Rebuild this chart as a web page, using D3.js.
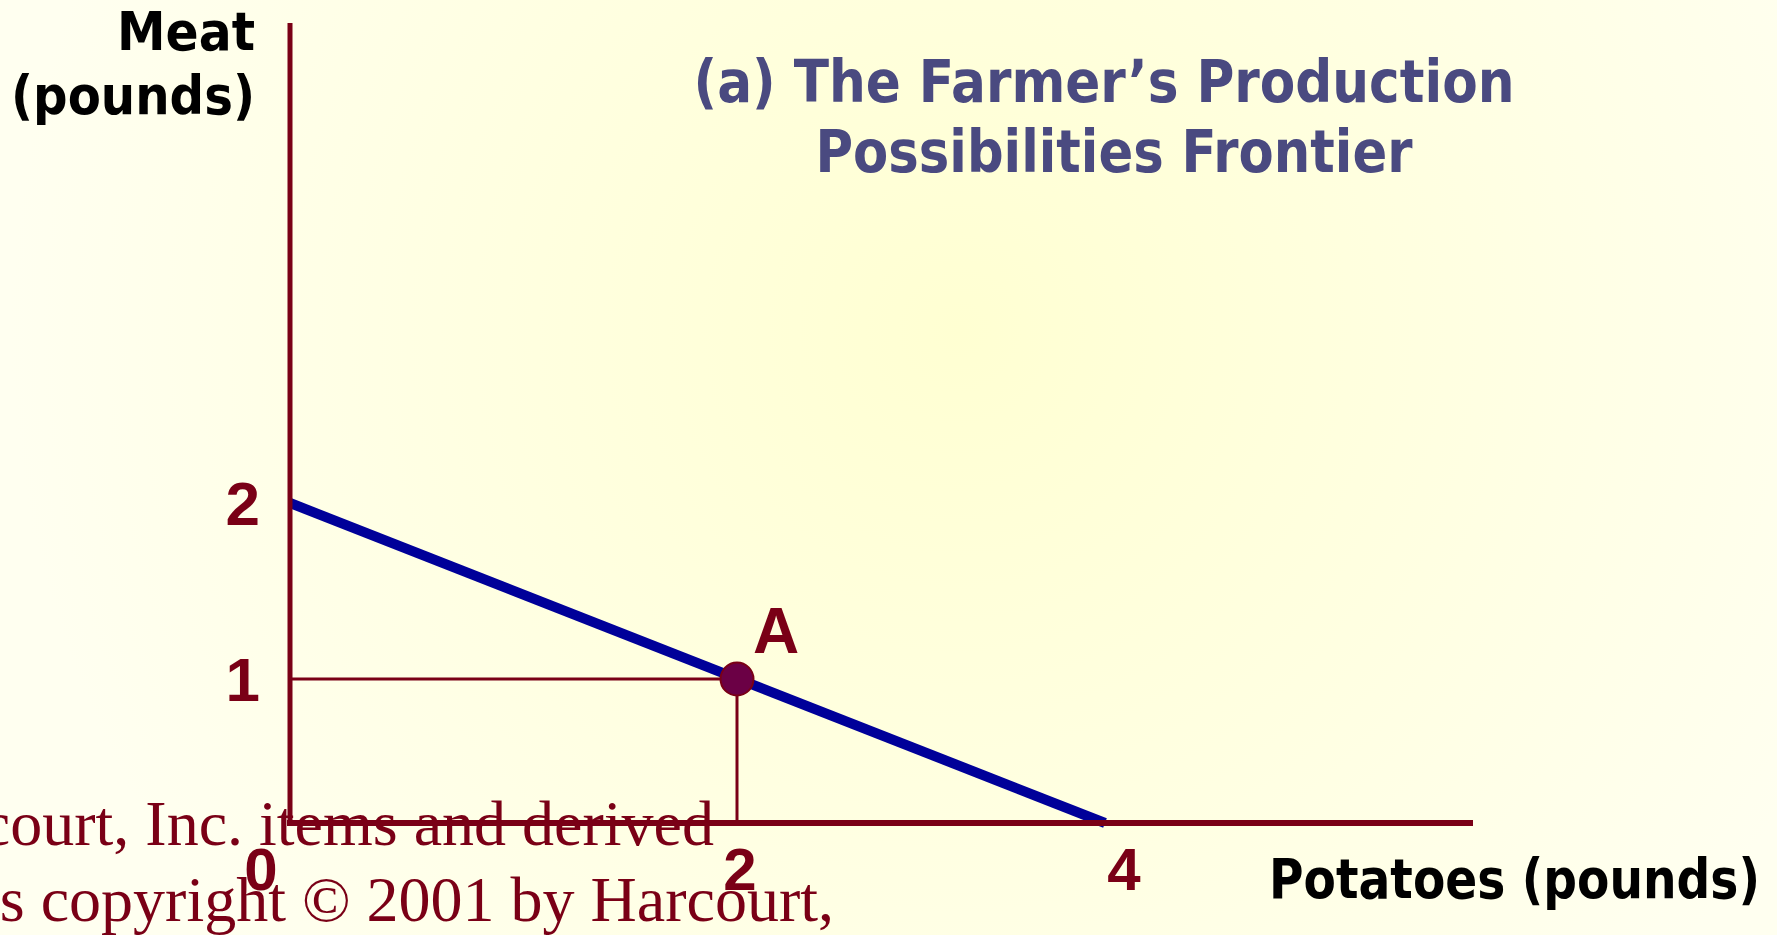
<!DOCTYPE html>
<html>
<head>
<meta charset="utf-8">
<script src="https://cdn.jsdelivr.net/npm/d3@7"></script>
<style>
  html, body { margin: 0; padding: 0; background: #FFFFEE; }
  svg { display: block; }
</style>
</head>
<body>
<script>
// ---- data ----
const frontierPotatoes = [0, 4];
const frontierMeat = [2, 0];
const pointLabels = ["A"];
const pointPotatoes = [2];
const pointMeat = [1];
const xTickValues = [0, 2, 4];
const xTickLabels = ["0", "2", "4"];
const yTickValues = [1, 2];
const yTickLabels = ["1", "2"];
const titleLines = ["(a) The Farmer\u2019s Production", "Possibilities Frontier"];
const yAxisTitle = ["Meat", "(pounds)"];
const xAxisTitle = "Potatoes (pounds)";
const copyrightLines = ["Harcourt, Inc. items and derived", "items copyright \u00A9 2001 by Harcourt,"];

// ---- layout ----
const W = 1777, H = 935;
const axisX = 290, axisY = 823, axisTop = 23, axisRight = 1473;
const dark = "#7A0016";

// schematic (piecewise linear) scales as in the original figure
const x = d3.scaleLinear().domain([0, 2, 4]).range([axisX, 737, 1105]);
const y = d3.scaleLinear().domain([0, 1, 2]).range([axisY, 679, 503]);

const svg = d3.select("body").append("svg").attr("width", W).attr("height", H);

const defs = svg.append("defs");
const grad = defs.append("radialGradient").attr("id", "bg")
  .attr("gradientUnits", "userSpaceOnUse")
  .attr("cx", 960).attr("cy", 330).attr("r", 950);
grad.append("stop").attr("offset", "0").attr("stop-color", "#FFFFD2");
grad.append("stop").attr("offset", "0.55").attr("stop-color", "#FFFFE2");
grad.append("stop").attr("offset", "1").attr("stop-color", "#FFFFF0");
svg.append("rect").attr("width", W).attr("height", H).attr("fill", "url(#bg)");

// title
svg.append("g").selectAll("text").data(titleLines).join("text")
  .attr("x", (d, i) => i === 0 ? 1104 : 1114)
  .attr("y", (d, i) => i === 0 ? 102 : 172)
  .attr("text-anchor", "middle")
  .attr("font-family", "'DejaVu Sans', sans-serif")
  .attr("font-weight", "bold")
  .attr("font-size", 58)
  .attr("fill", "#4A4A80")
  .attr("textLength", (d, i) => i === 0 ? 821 : 597)
  .attr("lengthAdjust", "spacingAndGlyphs")
  .text(d => d);

// y axis title
svg.append("g").selectAll("text").data(yAxisTitle).join("text")
  .attr("x", 255)
  .attr("y", (d, i) => i === 0 ? 50 : 114)
  .attr("text-anchor", "end")
  .attr("font-family", "'DejaVu Sans', sans-serif")
  .attr("font-weight", "bold")
  .attr("font-size", 53)
  .attr("fill", "#000")
  .attr("textLength", (d, i) => i === 0 ? 138 : 244)
  .attr("lengthAdjust", "spacingAndGlyphs")
  .text(d => d);

// x axis title
svg.append("text")
  .attr("x", 1269).attr("y", 898)
  .attr("font-family", "'DejaVu Sans', sans-serif")
  .attr("font-weight", "bold")
  .attr("font-size", 56)
  .attr("fill", "#000")
  .attr("textLength", 491)
  .attr("lengthAdjust", "spacingAndGlyphs")
  .text(xAxisTitle);

// guide lines to point
const pts = pointLabels.map((l, i) => ({ label: l, px: pointPotatoes[i], py: pointMeat[i] }));
const guides = svg.append("g").attr("stroke", dark).attr("stroke-width", 3);
pts.forEach(p => {
  guides.append("line").attr("x1", x(0)).attr("x2", x(p.px)).attr("y1", y(p.py)).attr("y2", y(p.py));
  guides.append("line").attr("x1", x(p.px)).attr("x2", x(p.px)).attr("y1", y(p.py)).attr("y2", y(0));
});

// frontier
const frontier = frontierPotatoes.map((v, i) => [v, frontierMeat[i]]);
svg.append("path")
  .datum(frontier)
  .attr("d", d3.line().x(d => x(d[0])).y(d => y(d[1])))
  .attr("fill", "none")
  .attr("stroke", "#000099")
  .attr("stroke-width", 10);

// axes
const yAxis = d3.axisLeft(y).tickValues([]).tickSizeOuter(0);
const gy = svg.append("g").attr("transform", `translate(${axisX},0)`).call(yAxis);
gy.select(".domain").attr("d", `M0,${axisTop}V${axisY + 3}`).attr("stroke", dark).attr("stroke-width", 5);
const xAxis = d3.axisBottom(x).tickValues([]).tickSizeOuter(0);
const gx = svg.append("g").attr("transform", `translate(0,${axisY})`).call(xAxis);
gx.select(".domain").attr("d", `M${axisX - 3},0H${axisRight}`).attr("stroke", dark).attr("stroke-width", 6);

// tick labels
const xNudge = { 0: -29, 2: 3, 4: 19 };
svg.append("g").selectAll("text").data(xTickValues).join("text")
  .attr("x", d => x(d) + xNudge[d])
  .attr("y", 890)
  .attr("text-anchor", "middle")
  .attr("font-family", "'Liberation Sans', Arial, sans-serif")
  .attr("font-weight", "bold")
  .attr("font-size", 60)
  .attr("fill", dark)
  .text((d, i) => xTickLabels[i]);
svg.append("g").selectAll("text").data(yTickValues).join("text")
  .attr("x", 260)
  .attr("y", d => y(d) + 22)
  .attr("text-anchor", "end")
  .attr("font-family", "'Liberation Sans', Arial, sans-serif")
  .attr("font-weight", "bold")
  .attr("font-size", 62)
  .attr("fill", dark)
  .text((d, i) => yTickLabels[i]);

// point
const gp = svg.append("g");
gp.selectAll("circle").data(pts).join("circle")
  .attr("cx", d => x(d.px)).attr("cy", d => y(d.py)).attr("r", 16.5)
  .attr("fill", "#6B0045").attr("stroke", dark).attr("stroke-width", 2);
gp.selectAll("text").data(pts).join("text")
  .attr("x", d => x(d.px) + 39).attr("y", d => y(d.py) - 26)
  .attr("text-anchor", "middle")
  .attr("font-family", "'Liberation Sans', Arial, sans-serif")
  .attr("font-weight", "bold")
  .attr("font-size", 64)
  .attr("fill", dark)
  .text(d => d.label);

// copyright (cut off at the left edge in the original)
svg.append("g").selectAll("text").data(copyrightLines).join("text")
  .attr("x", (d, i) => i === 0 ? 714 : 834)
  .attr("y", (d, i) => i === 0 ? 845 : 921)
  .attr("text-anchor", "end")
  .attr("font-family", "'Liberation Serif', 'Times New Roman', serif")
  .attr("font-size", 64)
  .attr("fill", dark)
  .text(d => d);
</script>
</body>
</html>
